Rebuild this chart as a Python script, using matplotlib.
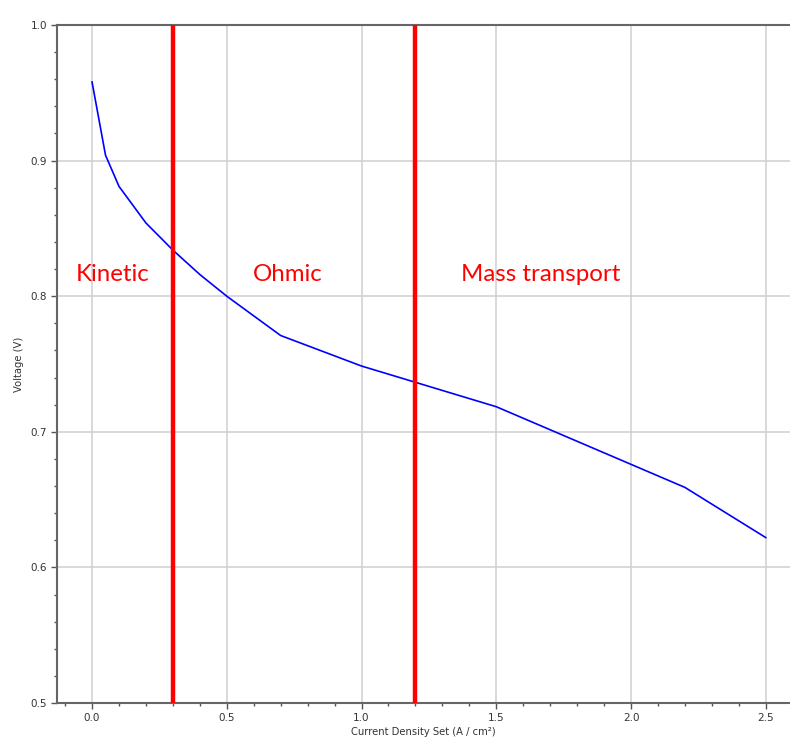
import matplotlib.pyplot as plt
from matplotlib.ticker import MultipleLocator

# polarisation curve
current_density = [0.0, 0.05, 0.1, 0.2, 0.3, 0.4, 0.5, 0.7, 1.0, 1.5, 2.0, 2.2, 2.5]
voltage = [0.958, 0.904, 0.881, 0.854, 0.834, 0.816, 0.800, 0.771, 0.7485, 0.7185, 0.676, 0.659, 0.622]

region_bounds = [0.3, 1.2]
region_names = ["Kinetic", "Ohmic", "Mass transport"]
region_label_x = [0.078, 0.725, 1.665]
region_label_y = 0.816

W, H = 790, 737
fig = plt.figure(figsize=(W / 100, H / 100), dpi=100)
fig.patch.set_facecolor("white")

# grey panel behind the chart
bg = fig.add_axes([8 / W, 0, 1 - 8 / W, 1 - 8 / H], zorder=-1)
bg.set_facecolor("#f0f0f0")
bg.axis("off")
bg.patch.set_visible(True)

ax = fig.add_axes([57 / W, 34 / H, 1 - 57 / W, (703 - 25) / H], zorder=1)
ax.set_facecolor("white")

ax.plot(current_density, voltage, color="#0000ff", linewidth=1.2, zorder=3)
for xb in region_bounds:
    ax.axvline(xb, color="#ff0000", linewidth=3.2, zorder=4)

for name, xt in zip(region_names, region_label_x):
    ax.text(xt, region_label_y, name, color="#ff0000", fontsize=17.3, family="Lato",
            ha="center", va="center", zorder=5)

ax.set_xlim(-0.13, 2.59)
ax.set_ylim(0.5, 1.0)
ax.xaxis.set_major_locator(MultipleLocator(0.5))
ax.xaxis.set_minor_locator(MultipleLocator(0.1))
ax.yaxis.set_major_locator(MultipleLocator(0.1))
ax.yaxis.set_minor_locator(MultipleLocator(0.02))
ax.grid(True, which="major", color="#cfcfcf", linewidth=1.1)
ax.set_axisbelow(True)

ax.tick_params(which="major", length=4, width=1, color="#555555", labelsize=7.5,
               labelcolor="#333333", pad=3)
ax.tick_params(which="minor", length=2.5, width=1, color="#555555")

for side in ["left", "bottom", "top"]:
    ax.spines[side].set_color("#666666")
    ax.spines[side].set_linewidth(1.5)
ax.spines["right"].set_visible(False)

ax.set_xlabel("Current Density Set (A / cm²)", fontsize=7.2, color="#333333", labelpad=3)
ax.set_ylabel("Voltage (V)", fontsize=7.2, color="#333333", labelpad=5)

fig.savefig("out.png", dpi=100)
